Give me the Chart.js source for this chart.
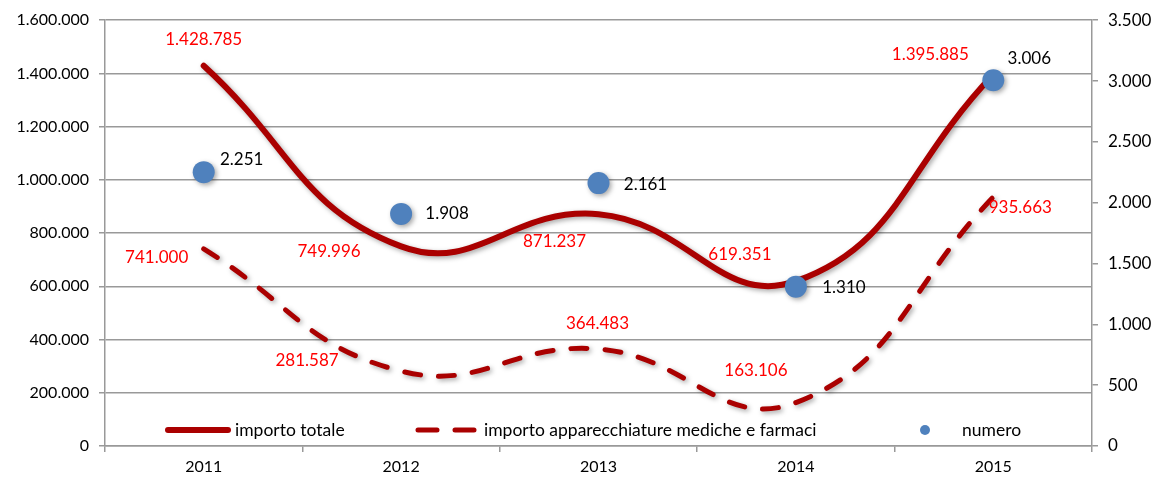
<!DOCTYPE html>
<html>
<head>
<meta charset="utf-8">
<script src="https://cdn.jsdelivr.net/npm/chart.js@4.4.1/dist/chart.umd.min.js"></script>
<style>
    html, body { margin: 0; padding: 0; background: #fff; }
    #wrap { width: 1156px; height: 477px; position: relative; }
</style>
</head>
<body>
<div id="wrap"><canvas id="chart-importo"></canvas></div>
<script>
var anni = ['2011', '2012', '2013', '2014', '2015'];
var importo_totale = [1428785, 749996, 871237, 619351, 1395885];
var importo_apparecchiature = [741000, 281587, 364483, 163106, 935663];
var numero = [2251, 1908, 2161, 1310, 3006];
var tick_sinistra = [0, 200000, 400000, 600000, 800000, 1000000, 1200000, 1400000, 1600000];
var tick_destra = [0, 500, 1000, 1500, 2000, 2500, 3000, 3500];

// offset etichette (dx, dy) rispetto al punto
var offset_totale = [[0, -26], [-72, 5], [-44, 27], [-56, -27], [-63, -20]];
var offset_apparecchiature = [[-47, 9], [-94, -11], [-1, -25], [-40, -32], [27, 11]];
var offset_numero = [[38, -13], [46, 0], [47, 1], [48, 1], [36, -22]];

const FONT = 'Lato, "Open Sans", sans-serif';
const ROSSO = '#aa0000';
const BLU = '#4f81bd';

const formatta = (v) => String(v).replace(/\B(?=(\d{3})+(?!\d))/g, '.');

const shadowPlugin = {
    id: 'ombra',
    beforeDatasetDraw: (chart, args) => {
        let ctx = chart.ctx;
        ctx.save();
        ctx.shadowColor = 'rgba(0,0,0,0.35)';
        ctx.shadowBlur = 5;
        ctx.shadowOffsetX = 2;
        ctx.shadowOffsetY = 2;
    },
    afterDatasetDraw: (chart, args) => {
        chart.ctx.restore();
    }
};

const labelPlugin = {
    id: 'etichette',
    afterDatasetsDraw: (chart) => {
        let ctx = chart.ctx;
        chart.data.datasets.forEach((ds, di) => {
            let meta = chart.getDatasetMeta(di);
            meta.data.forEach((pt, i) => {
                let off = ds.labelOffset[i];
                ctx.save();
                ctx.font = '17px ' + FONT;
                ctx.fillStyle = ds.labelColor;
                ctx.textAlign = 'center';
                ctx.textBaseline = 'middle';
                ctx.fillText(formatta(ds.data[i]), pt.x + off[0], pt.y + off[1]);
                ctx.restore();
            });
        });
    }
};

const legendPlugin = {
    id: 'legenda',
    afterDraw: (chart) => {
        let ctx = chart.ctx;
        let y = 430;
        ctx.save();
        ctx.font = '17.5px ' + FONT;
        ctx.fillStyle = '#000';
        ctx.textBaseline = 'middle';
        ctx.textAlign = 'left';
        ctx.strokeStyle = ROSSO;
        ctx.lineCap = 'round';
        // importo totale
        ctx.lineWidth = 6;
        ctx.beginPath();
        ctx.moveTo(168, y);
        ctx.lineTo(228, y);
        ctx.stroke();
        ctx.fillText('importo totale', 235, y);
        // apparecchiature
        ctx.lineWidth = 5;
        ctx.beginPath();
        ctx.moveTo(418, y);
        ctx.lineTo(437, y);
        ctx.moveTo(455, y);
        ctx.lineTo(474, y);
        ctx.stroke();
        ctx.fillText('importo apparecchiature mediche e farmaci', 484, y);
        // numero
        ctx.fillStyle = BLU;
        ctx.beginPath();
        ctx.arc(925, y, 5, 0, Math.PI * 2);
        ctx.fill();
        ctx.fillStyle = '#000';
        ctx.fillText('numero', 962, y);
        ctx.restore();
    }
};

new Chart(document.getElementById('chart-importo'), {
    type: 'line',
    data: {
        labels: anni,
        datasets: [{
            label: 'numero',
            data: numero,
            yAxisID: 'y1',
            showLine: false,
            pointRadius: 11,
            pointBackgroundColor: BLU,
            pointBorderWidth: 0,
            order: 0,
            labelColor: '#000',
            labelOffset: offset_numero
        }, {
            label: 'importo totale',
            data: importo_totale,
            yAxisID: 'y',
            borderColor: ROSSO,
            borderWidth: 6,
            borderCapStyle: 'round',
            tension: 0.45,
            pointRadius: 0,
            order: 1,
            labelColor: '#ff0000',
            labelOffset: offset_totale
        }, {
            label: 'importo apparecchiature mediche e farmaci',
            data: importo_apparecchiature,
            yAxisID: 'y',
            borderColor: ROSSO,
            borderWidth: 5,
            borderDash: [16, 18],
            borderCapStyle: 'round',
            tension: 0.45,
            pointRadius: 0,
            order: 2,
            labelColor: '#ff0000',
            labelOffset: offset_apparecchiature
        }]
    },
    options: {
        responsive: true,
        maintainAspectRatio: false,
        animation: false,
        layout: { padding: { top: 10, right: 0, left: 0, bottom: 0 } },
        plugins: {
            legend: { display: false },
            tooltip: { enabled: false }
        },
        scales: {
            x: {
                offset: true,
                grid: { offset: true, drawOnChartArea: false, drawTicks: true, tickLength: 6, color: '#999', lineWidth: 1.5 },
                border: { color: '#999', width: 1.5 },
                ticks: { color: '#000', font: { family: FONT, size: 16 }, padding: 5 },
                afterFit: (s) => { s.height = 31; }
            },
            y: {
                position: 'left',
                min: 0,
                max: 1600000,
                afterBuildTicks: (s) => { s.ticks = tick_sinistra.map(v => ({ value: v })); },
                grid: { color: '#999', lineWidth: 1.5, tickLength: 6 },
                border: { color: '#999', width: 1.5 },
                ticks: { color: '#000', font: { family: FONT, size: 16 }, padding: 10, callback: (v) => formatta(v) },
                afterFit: (s) => { s.width = 105; }
            },
            y1: {
                position: 'right',
                min: 0,
                max: 3500,
                afterBuildTicks: (s) => { s.ticks = tick_destra.map(v => ({ value: v })); },
                grid: { drawOnChartArea: false, color: '#999', lineWidth: 1.5, tickLength: 6 },
                border: { color: '#999', width: 1.5 },
                ticks: { color: '#000', font: { family: FONT, size: 17 }, padding: 10, callback: (v) => formatta(v) },
                afterFit: (s) => { s.width = 64; }
            }
        }
    },
    plugins: [shadowPlugin, labelPlugin, legendPlugin]
});
</script>
</body>
</html>
